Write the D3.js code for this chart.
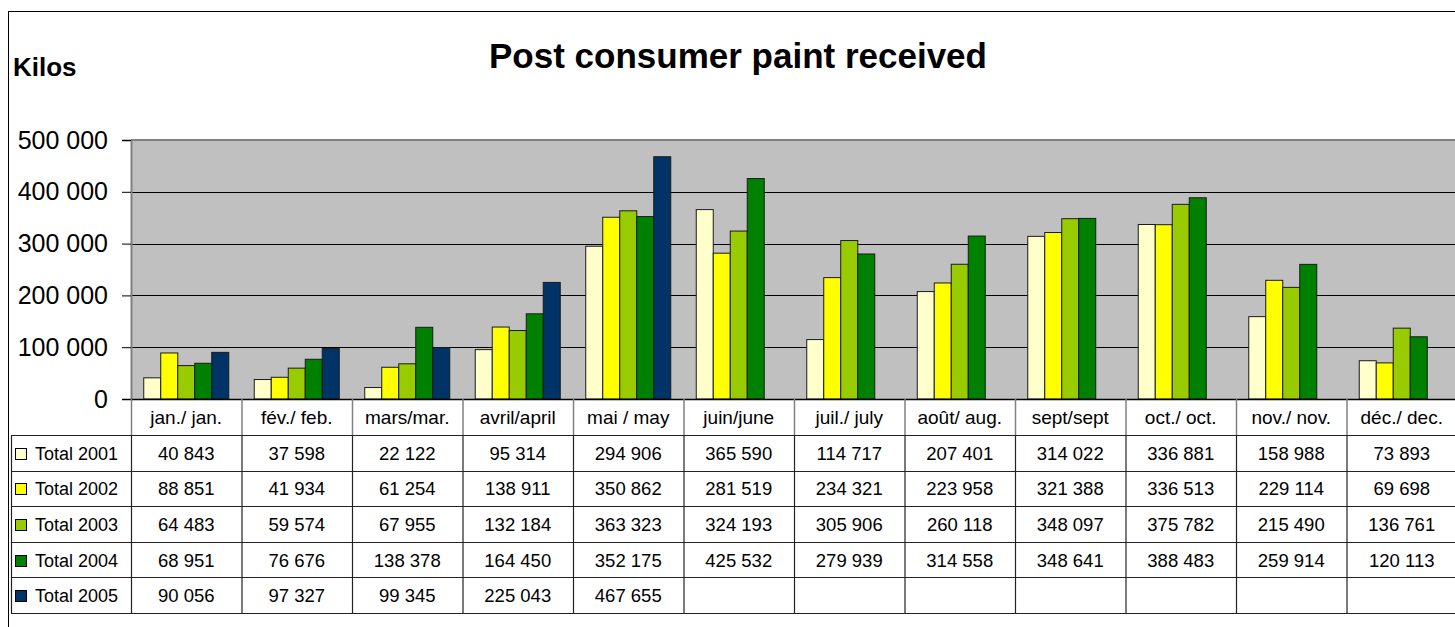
<!DOCTYPE html>
<html>
<head>
<meta charset="utf-8">
<script src="https://cdn.jsdelivr.net/npm/d3@7"></script>
<style>
  body { margin: 0; background: #fff; }
  svg { display: block; font-family: "Liberation Sans", Arial, sans-serif; }
</style>
</head>
<body>
<svg id="chart" width="1455" height="627"></svg>
<script>
var months = ['jan./ jan.', 'fév./ feb.', 'mars/mar.', 'avril/april', 'mai / may', 'juin/june',
    'juil./ july', 'août/ aug.', 'sept/sept', 'oct./ oct.', 'nov./ nov.', 'déc./ dec.'];

var seriesNames = ['Total 2001', 'Total 2002', 'Total 2003', 'Total 2004', 'Total 2005'];
var seriesColors = ['#ffffcc', '#ffff00', '#99cc00', '#008000', '#003366'];

var total2001 = [40843, 37598, 22122, 95314, 294906, 365590, 114717, 207401, 314022, 336881, 158988, 73893];
var total2002 = [88851, 41934, 61254, 138911, 350862, 281519, 234321, 223958, 321388, 336513, 229114, 69698];
var total2003 = [64483, 59574, 67955, 132184, 363323, 324193, 305906, 260118, 348097, 375782, 215490, 136761];
var total2004 = [68951, 76676, 138378, 164450, 352175, 425532, 279939, 314558, 348641, 388483, 259914, 120113];
var total2005 = [90056, 97327, 99345, 225043, 467655, null, null, null, null, null, null, null];

var yTicks = [0, 100000, 200000, 300000, 400000, 500000];

var allSeries = [total2001, total2002, total2003, total2004, total2005];

var svg = d3.select('#chart');

var fr = d3.formatLocale({ decimal: ',', thousands: ' ', grouping: [3], currency: ['', ''] });
var fmt = fr.format(',d');

var plotLeft = 131, plotTop = 140, plotBottom = 399;
var colW = 110.5;
var rowTop = 435, rowH = 35.6;
var legendLeft = 11;

var x = d3.scaleBand()
    .domain(months)
    .range([plotLeft, plotLeft + colW * months.length])
    .padding(0);

var xInner = d3.scaleBand()
    .domain(d3.range(seriesNames.length))
    .range([0, x.bandwidth()])
    .paddingInner(0)
    .paddingOuter(0.75);

var y = d3.scaleLinear()
    .domain([0, 500000])
    .range([plotBottom, plotTop]);

// outer chart border
svg.append('rect')
    .attr('x', 8.5).attr('y', 11.5)
    .attr('width', 1460).attr('height', 640)
    .attr('fill', 'none').attr('stroke', '#000').attr('stroke-width', 1);

// title
svg.append('text')
    .attr('x', 489).attr('y', 68)
    .attr('font-size', 35)
    .attr('font-weight', 'bold')
    .text('Post consumer paint received');

svg.append('text')
    .attr('x', 13).attr('y', 76)
    .attr('font-size', 26)
    .attr('font-weight', 'bold')
    .text('Kilos');

// plot background
svg.append('rect')
    .attr('x', plotLeft).attr('y', plotTop)
    .attr('width', x.range()[1] - plotLeft)
    .attr('height', plotBottom - plotTop)
    .attr('fill', '#c0c0c0');

// gridlines
svg.append('g')
    .selectAll('line')
    .data(yTicks.slice(1, -1))
    .enter().append('line')
    .attr('x1', plotLeft).attr('x2', x.range()[1])
    .attr('y1', function(d) { return Math.round(y(d)) + 0.5; })
    .attr('y2', function(d) { return Math.round(y(d)) + 0.5; })
    .attr('stroke', '#000').attr('stroke-width', 1);

// top border of plot
svg.append('line')
    .attr('x1', plotLeft).attr('x2', x.range()[1])
    .attr('y1', plotTop).attr('y2', plotTop)
    .attr('stroke', '#808080').attr('stroke-width', 2);

// bars
var groups = svg.append('g')
    .selectAll('g')
    .data(allSeries)
    .enter().append('g')
    .attr('fill', function(d, i) { return seriesColors[i]; });

groups.each(function(vals, si) {
    d3.select(this).selectAll('rect')
        .data(vals.map(function(v, mi) { return { v: v, m: months[mi] }; })
            .filter(function(d) { return d.v != null; }))
        .enter().append('rect')
        .attr('x', function(d) { return x(d.m) + xInner(si); })
        .attr('y', function(d) { return y(d.v); })
        .attr('width', xInner.bandwidth())
        .attr('height', function(d) { return plotBottom - y(d.v); })
        .attr('stroke', '#1a1a1a')
        .attr('stroke-width', 1);
});

// y axis
var yAxis = d3.axisLeft(y)
    .tickValues(yTicks)
    .tickSize(9)
    .tickPadding(14)
    .tickFormat(fmt);

var yG = svg.append('g')
    .attr('transform', 'translate(' + plotLeft + ',0)')
    .call(yAxis);
yG.select('.domain').attr('stroke', '#808080').attr('stroke-width', 2);
yG.selectAll('.tick line').attr('stroke', '#000');
yG.selectAll('.tick text')
    .attr('font-size', 25)
    .attr('font-family', '"Liberation Sans", Arial, sans-serif')
    .attr('fill', '#000');

// category row: baseline and separators
svg.append('line')
    .attr('x1', plotLeft).attr('x2', x.range()[1])
    .attr('y1', plotBottom + 0.5).attr('y2', plotBottom + 0.5)
    .attr('stroke', '#000').attr('stroke-width', 1.5);

svg.append('g')
    .selectAll('line')
    .data(months)
    .enter().append('line')
    .attr('x1', function(d) { return x(d) + 0.5; })
    .attr('x2', function(d) { return x(d) + 0.5; })
    .attr('y1', plotBottom).attr('y2', rowTop)
    .attr('stroke', '#808080').attr('stroke-width', 1.5);

svg.append('g')
    .selectAll('text')
    .data(months)
    .enter().append('text')
    .attr('x', function(d) { return x(d) + x.bandwidth() / 2; })
    .attr('y', 424)
    .attr('text-anchor', 'middle')
    .attr('font-size', 19)
    .text(function(d) { return d; });

// data table
var nRows = seriesNames.length;
var tableBottom = rowTop + rowH * nRows;

var rowG = svg.append('g');
rowG.selectAll('line.h')
    .data(d3.range(nRows + 1))
    .enter().append('line')
    .attr('class', 'h')
    .attr('x1', legendLeft).attr('x2', x.range()[1])
    .attr('y1', function(i) { return Math.round(rowTop + i * rowH) + 0.5; })
    .attr('y2', function(i) { return Math.round(rowTop + i * rowH) + 0.5; })
    .attr('stroke', '#222').attr('stroke-width', 1.2);

rowG.selectAll('line.v')
    .data([legendLeft, plotLeft].concat(months.slice(1).map(function(m) { return x(m); })))
    .enter().append('line')
    .attr('class', 'v')
    .attr('x1', function(d) { return d + 0.5; })
    .attr('x2', function(d) { return d + 0.5; })
    .attr('y1', rowTop).attr('y2', tableBottom)
    .attr('stroke', '#222').attr('stroke-width', 1.2);

seriesNames.forEach(function(name, si) {
    var cy = rowTop + si * rowH + rowH / 2;
    svg.append('rect')
        .attr('x', 15.5).attr('y', Math.round(cy - 5) + 0.5)
        .attr('width', 11).attr('height', 11)
        .attr('fill', seriesColors[si])
        .attr('stroke', '#000').attr('stroke-width', 1);
    svg.append('text')
        .attr('x', 35).attr('y', cy + 7)
        .attr('font-size', 18)
        .text(name);
    svg.append('g')
        .selectAll('text')
        .data(allSeries[si].map(function(v, mi) { return { v: v, m: months[mi] }; })
            .filter(function(d) { return d.v != null; }))
        .enter().append('text')
        .attr('x', function(d) { return x(d.m) + x.bandwidth() / 2; })
        .attr('y', cy + 7)
        .attr('text-anchor', 'middle')
        .attr('font-size', 18.5)
        .text(function(d) { return fmt(d.v); });
});
</script>
</body>
</html>
